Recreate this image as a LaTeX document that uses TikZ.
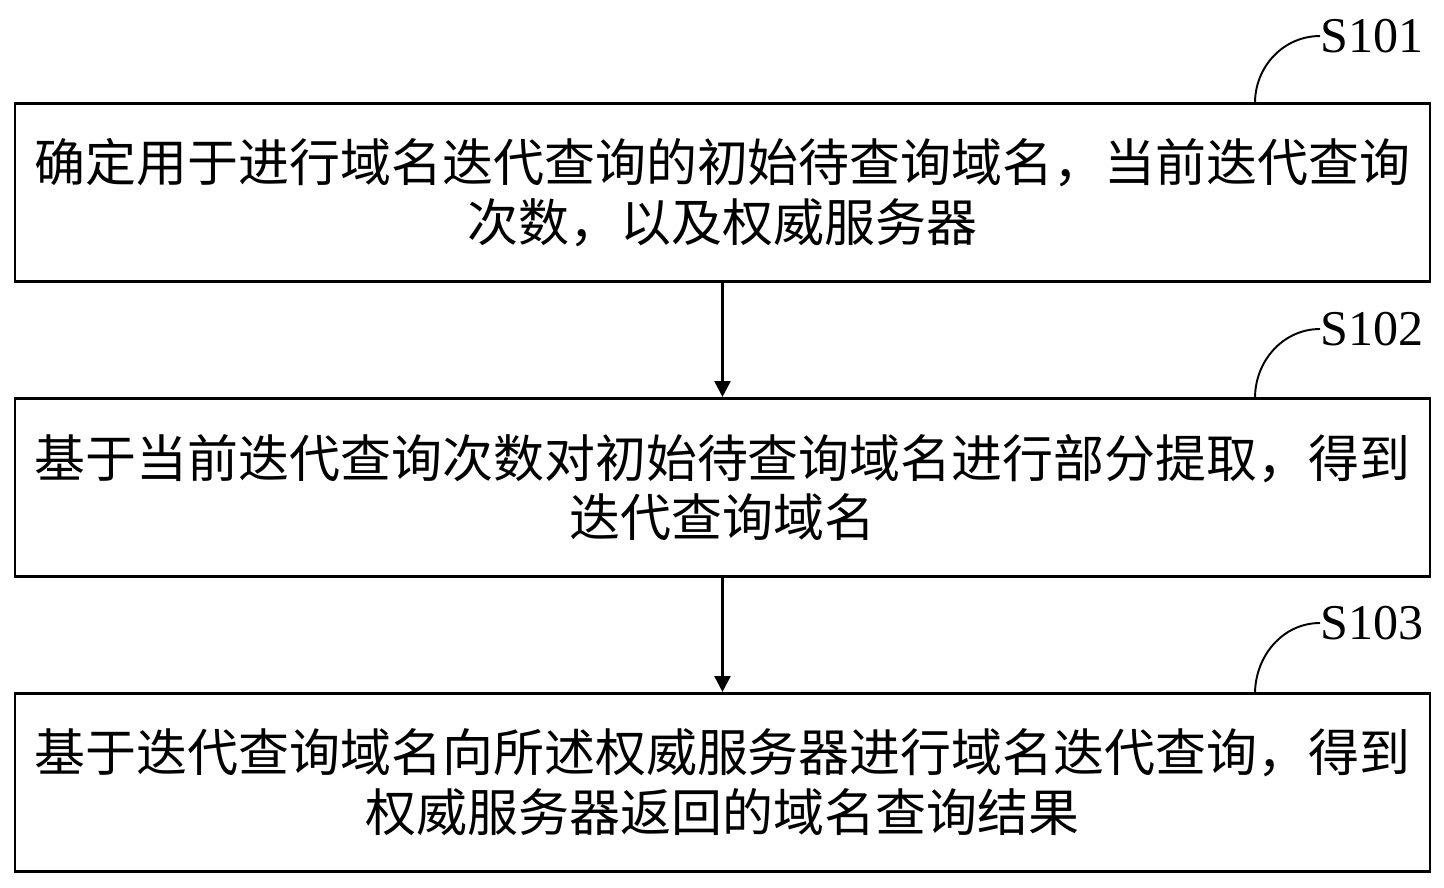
\documentclass[tikz,border=0pt]{standalone}
\usepackage{fontspec}
\setmainfont{Liberation Serif}
\newfontfamily\cjk{Noto Sans CJK SC}
\usetikzlibrary{arrows.meta}

\tikzset{
  stepbox/.style={draw, line width=1.5pt, minimum width=28.3cm, minimum height=3.57cm, inner sep=0pt,
    align=center, font=\cjk\fontsize{29}{34}\selectfont},
  steplabel/.style={anchor=west, inner sep=0pt, font=\fontsize{28.5}{30}\selectfont},
  flow/.style={line width=1.5pt, -{Triangle[length=9pt,width=9pt]}},
}

\begin{document}
\begin{tikzpicture}[x=0.02cm, y=-0.02cm]
\useasboundingbox (0,0) rectangle (1444,887);

\node [stepbox] (b1) at (722.5,192.5) {确定用于进行域名迭代查询的初始待查询域名，当前迭代查询\\次数，以及权威服务器};
\node [stepbox] (b2) at (722.5,487.5) {基于当前迭代查询次数对初始待查询域名进行部分提取，得到\\迭代查询域名};
\node [stepbox] (b3) at (722.5,782.5) {基于迭代查询域名向所述权威服务器进行域名迭代查询，得到\\权威服务器返回的域名查询结果};

\draw [flow] (b1) -- (b2);
\draw [flow] (b2) -- (b3);

% step labels
\node [steplabel] (l1) at (1320,36) {S101};
\node [steplabel] (l2) at (1320,329) {S102};
\node [steplabel] (l3) at (1320,623) {S103};
\coordinate (t1) at (1255,103);
\coordinate (t2) at (1255,398);
\coordinate (t3) at (1255,694);
\draw [line width=1.1pt] (t1) to[out=90, in=180] (l1.west);
\draw [line width=1.1pt] (t2) to[out=90, in=180] (l2.west);
\draw [line width=1.1pt] (t3) to[out=90, in=180] (l3.west);
\end{tikzpicture}
\end{document}
